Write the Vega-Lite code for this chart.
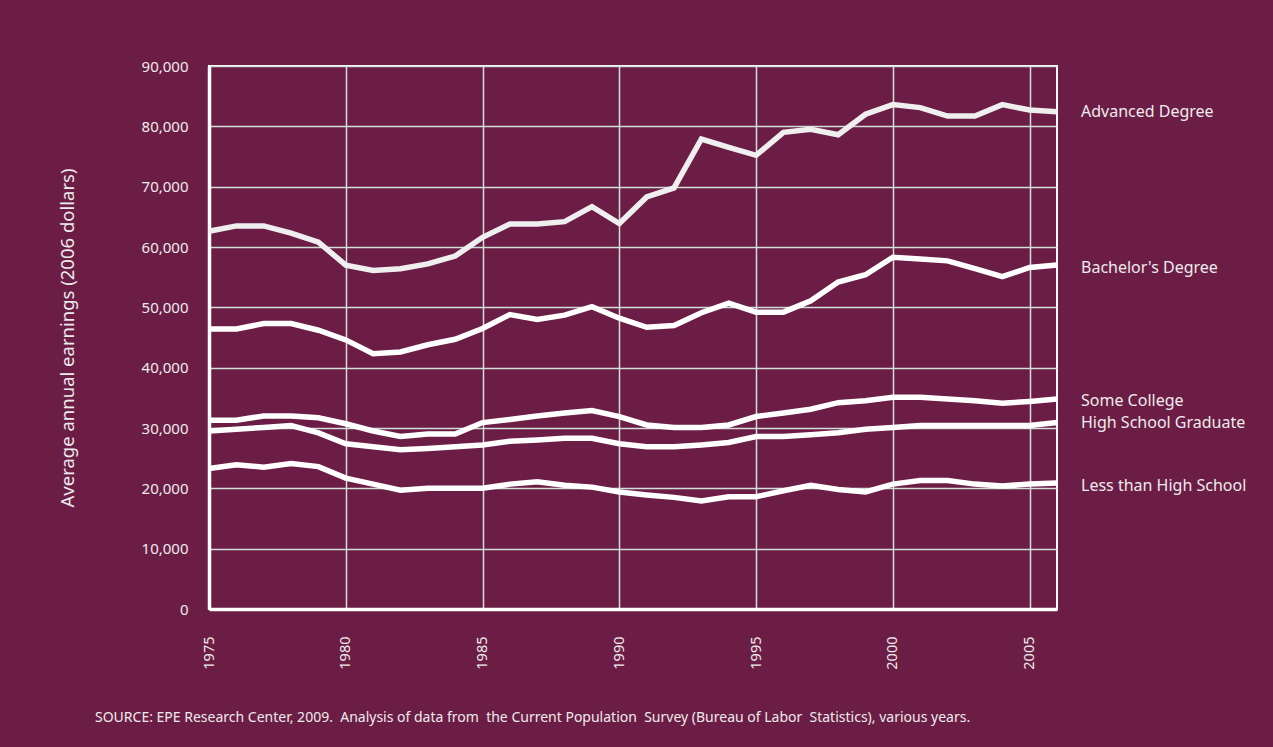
{
  "$schema": "https://vega.github.io/schema/vega-lite/v6.json",
  "width": 848,
  "height": 543,
  "autosize": {"type": "none"},
  "padding": {"left": 209, "top": 66, "right": 216, "bottom": 138},
  "background": "#6C1D45",
  "config": {
    "font": "Noto Sans",
    "view": {"stroke": "#ffffff", "strokeWidth": 2, "fill": "#6C1D45"},
    "axis": {"gridColor": "#cfe0da", "gridWidth": 1.5, "gridOpacity": 1, "domainColor": "#ffffff", "domainWidth": 3.5, "ticks": false, "labelColor": "#ecebec", "titleColor": "#ecebec", "labelFont": "Noto Sans", "titleFont": "Noto Sans"}
  },
  "title": {
    "text": "SOURCE: EPE Research Center, 2009. \u00a0Analysis of data from \u00a0the Current Population \u00a0Survey (Bureau of Labor \u00a0Statistics), various years.",
    "orient": "bottom",
    "anchor": "start",
    "frame": "group",
    "dx": -114,
    "offset": 42,
    "fontSize": 14,
    "fontWeight": "normal",
    "color": "#ecebec",
    "font": "Noto Sans"
  },
  "datasets": {
    "earn": [
      {"year": 1975, "series": "Advanced Degree", "value": 62600},
      {"year": 1976, "series": "Advanced Degree", "value": 63500},
      {"year": 1977, "series": "Advanced Degree", "value": 63500},
      {"year": 1978, "series": "Advanced Degree", "value": 62300},
      {"year": 1979, "series": "Advanced Degree", "value": 60800},
      {"year": 1980, "series": "Advanced Degree", "value": 57000},
      {"year": 1981, "series": "Advanced Degree", "value": 56100},
      {"year": 1982, "series": "Advanced Degree", "value": 56400},
      {"year": 1983, "series": "Advanced Degree", "value": 57200},
      {"year": 1984, "series": "Advanced Degree", "value": 58500},
      {"year": 1985, "series": "Advanced Degree", "value": 61600},
      {"year": 1986, "series": "Advanced Degree", "value": 63800},
      {"year": 1987, "series": "Advanced Degree", "value": 63800},
      {"year": 1988, "series": "Advanced Degree", "value": 64200},
      {"year": 1989, "series": "Advanced Degree", "value": 66700},
      {"year": 1990, "series": "Advanced Degree", "value": 63900},
      {"year": 1991, "series": "Advanced Degree", "value": 68300},
      {"year": 1992, "series": "Advanced Degree", "value": 69800},
      {"year": 1993, "series": "Advanced Degree", "value": 77900},
      {"year": 1994, "series": "Advanced Degree", "value": 76500},
      {"year": 1995, "series": "Advanced Degree", "value": 75200},
      {"year": 1996, "series": "Advanced Degree", "value": 79000},
      {"year": 1997, "series": "Advanced Degree", "value": 79500},
      {"year": 1998, "series": "Advanced Degree", "value": 78600},
      {"year": 1999, "series": "Advanced Degree", "value": 82000},
      {"year": 2000, "series": "Advanced Degree", "value": 83600},
      {"year": 2001, "series": "Advanced Degree", "value": 83100},
      {"year": 2002, "series": "Advanced Degree", "value": 81700},
      {"year": 2003, "series": "Advanced Degree", "value": 81700},
      {"year": 2004, "series": "Advanced Degree", "value": 83600},
      {"year": 2005, "series": "Advanced Degree", "value": 82700},
      {"year": 2006, "series": "Advanced Degree", "value": 82400},
      {"year": 1975, "series": "Bachelor's Degree", "value": 46400},
      {"year": 1976, "series": "Bachelor's Degree", "value": 46400},
      {"year": 1977, "series": "Bachelor's Degree", "value": 47300},
      {"year": 1978, "series": "Bachelor's Degree", "value": 47300},
      {"year": 1979, "series": "Bachelor's Degree", "value": 46200},
      {"year": 1980, "series": "Bachelor's Degree", "value": 44600},
      {"year": 1981, "series": "Bachelor's Degree", "value": 42300},
      {"year": 1982, "series": "Bachelor's Degree", "value": 42600},
      {"year": 1983, "series": "Bachelor's Degree", "value": 43800},
      {"year": 1984, "series": "Bachelor's Degree", "value": 44700},
      {"year": 1985, "series": "Bachelor's Degree", "value": 46500},
      {"year": 1986, "series": "Bachelor's Degree", "value": 48800},
      {"year": 1987, "series": "Bachelor's Degree", "value": 48000},
      {"year": 1988, "series": "Bachelor's Degree", "value": 48700},
      {"year": 1989, "series": "Bachelor's Degree", "value": 50100},
      {"year": 1990, "series": "Bachelor's Degree", "value": 48200},
      {"year": 1991, "series": "Bachelor's Degree", "value": 46700},
      {"year": 1992, "series": "Bachelor's Degree", "value": 47000},
      {"year": 1993, "series": "Bachelor's Degree", "value": 49100},
      {"year": 1994, "series": "Bachelor's Degree", "value": 50700},
      {"year": 1995, "series": "Bachelor's Degree", "value": 49200},
      {"year": 1996, "series": "Bachelor's Degree", "value": 49200},
      {"year": 1997, "series": "Bachelor's Degree", "value": 51100},
      {"year": 1998, "series": "Bachelor's Degree", "value": 54200},
      {"year": 1999, "series": "Bachelor's Degree", "value": 55400},
      {"year": 2000, "series": "Bachelor's Degree", "value": 58300},
      {"year": 2001, "series": "Bachelor's Degree", "value": 58000},
      {"year": 2002, "series": "Bachelor's Degree", "value": 57700},
      {"year": 2003, "series": "Bachelor's Degree", "value": 56400},
      {"year": 2004, "series": "Bachelor's Degree", "value": 55100},
      {"year": 2005, "series": "Bachelor's Degree", "value": 56600},
      {"year": 2006, "series": "Bachelor's Degree", "value": 57000},
      {"year": 1975, "series": "Some College", "value": 31300},
      {"year": 1976, "series": "Some College", "value": 31300},
      {"year": 1977, "series": "Some College", "value": 32000},
      {"year": 1978, "series": "Some College", "value": 32000},
      {"year": 1979, "series": "Some College", "value": 31700},
      {"year": 1980, "series": "Some College", "value": 30700},
      {"year": 1981, "series": "Some College", "value": 29500},
      {"year": 1982, "series": "Some College", "value": 28600},
      {"year": 1983, "series": "Some College", "value": 29000},
      {"year": 1984, "series": "Some College", "value": 29000},
      {"year": 1985, "series": "Some College", "value": 30900},
      {"year": 1986, "series": "Some College", "value": 31400},
      {"year": 1987, "series": "Some College", "value": 32000},
      {"year": 1988, "series": "Some College", "value": 32500},
      {"year": 1989, "series": "Some College", "value": 32900},
      {"year": 1990, "series": "Some College", "value": 31900},
      {"year": 1991, "series": "Some College", "value": 30500},
      {"year": 1992, "series": "Some College", "value": 30100},
      {"year": 1993, "series": "Some College", "value": 30100},
      {"year": 1994, "series": "Some College", "value": 30500},
      {"year": 1995, "series": "Some College", "value": 31900},
      {"year": 1996, "series": "Some College", "value": 32500},
      {"year": 1997, "series": "Some College", "value": 33100},
      {"year": 1998, "series": "Some College", "value": 34200},
      {"year": 1999, "series": "Some College", "value": 34500},
      {"year": 2000, "series": "Some College", "value": 35100},
      {"year": 2001, "series": "Some College", "value": 35100},
      {"year": 2002, "series": "Some College", "value": 34800},
      {"year": 2003, "series": "Some College", "value": 34500},
      {"year": 2004, "series": "Some College", "value": 34100},
      {"year": 2005, "series": "Some College", "value": 34400},
      {"year": 2006, "series": "Some College", "value": 34800},
      {"year": 1975, "series": "High School Graduate", "value": 29500},
      {"year": 1976, "series": "High School Graduate", "value": 29800},
      {"year": 1977, "series": "High School Graduate", "value": 30100},
      {"year": 1978, "series": "High School Graduate", "value": 30400},
      {"year": 1979, "series": "High School Graduate", "value": 29200},
      {"year": 1980, "series": "High School Graduate", "value": 27400},
      {"year": 1981, "series": "High School Graduate", "value": 26900},
      {"year": 1982, "series": "High School Graduate", "value": 26400},
      {"year": 1983, "series": "High School Graduate", "value": 26600},
      {"year": 1984, "series": "High School Graduate", "value": 26900},
      {"year": 1985, "series": "High School Graduate", "value": 27200},
      {"year": 1986, "series": "High School Graduate", "value": 27800},
      {"year": 1987, "series": "High School Graduate", "value": 28000},
      {"year": 1988, "series": "High School Graduate", "value": 28300},
      {"year": 1989, "series": "High School Graduate", "value": 28300},
      {"year": 1990, "series": "High School Graduate", "value": 27400},
      {"year": 1991, "series": "High School Graduate", "value": 26900},
      {"year": 1992, "series": "High School Graduate", "value": 26900},
      {"year": 1993, "series": "High School Graduate", "value": 27200},
      {"year": 1994, "series": "High School Graduate", "value": 27600},
      {"year": 1995, "series": "High School Graduate", "value": 28600},
      {"year": 1996, "series": "High School Graduate", "value": 28600},
      {"year": 1997, "series": "High School Graduate", "value": 28900},
      {"year": 1998, "series": "High School Graduate", "value": 29200},
      {"year": 1999, "series": "High School Graduate", "value": 29800},
      {"year": 2000, "series": "High School Graduate", "value": 30100},
      {"year": 2001, "series": "High School Graduate", "value": 30400},
      {"year": 2002, "series": "High School Graduate", "value": 30400},
      {"year": 2003, "series": "High School Graduate", "value": 30400},
      {"year": 2004, "series": "High School Graduate", "value": 30400},
      {"year": 2005, "series": "High School Graduate", "value": 30400},
      {"year": 2006, "series": "High School Graduate", "value": 30900},
      {"year": 1975, "series": "Less than High School", "value": 23300},
      {"year": 1976, "series": "Less than High School", "value": 23900},
      {"year": 1977, "series": "Less than High School", "value": 23500},
      {"year": 1978, "series": "Less than High School", "value": 24100},
      {"year": 1979, "series": "Less than High School", "value": 23600},
      {"year": 1980, "series": "Less than High School", "value": 21700},
      {"year": 1981, "series": "Less than High School", "value": 20700},
      {"year": 1982, "series": "Less than High School", "value": 19700},
      {"year": 1983, "series": "Less than High School", "value": 20000},
      {"year": 1984, "series": "Less than High School", "value": 20000},
      {"year": 1985, "series": "Less than High School", "value": 20000},
      {"year": 1986, "series": "Less than High School", "value": 20700},
      {"year": 1987, "series": "Less than High School", "value": 21100},
      {"year": 1988, "series": "Less than High School", "value": 20500},
      {"year": 1989, "series": "Less than High School", "value": 20200},
      {"year": 1990, "series": "Less than High School", "value": 19400},
      {"year": 1991, "series": "Less than High School", "value": 18900},
      {"year": 1992, "series": "Less than High School", "value": 18500},
      {"year": 1993, "series": "Less than High School", "value": 17900},
      {"year": 1994, "series": "Less than High School", "value": 18600},
      {"year": 1995, "series": "Less than High School", "value": 18600},
      {"year": 1996, "series": "Less than High School", "value": 19600},
      {"year": 1997, "series": "Less than High School", "value": 20500},
      {"year": 1998, "series": "Less than High School", "value": 19800},
      {"year": 1999, "series": "Less than High School", "value": 19400},
      {"year": 2000, "series": "Less than High School", "value": 20700},
      {"year": 2001, "series": "Less than High School", "value": 21300},
      {"year": 2002, "series": "Less than High School", "value": 21300},
      {"year": 2003, "series": "Less than High School", "value": 20700},
      {"year": 2004, "series": "Less than High School", "value": 20400},
      {"year": 2005, "series": "Less than High School", "value": 20700},
      {"year": 2006, "series": "Less than High School", "value": 20900}
    ],
    "labels": [
      {"year": 2006, "series": "Advanced Degree", "value": 82300},
      {"year": 2006, "series": "Bachelor's Degree", "value": 56600},
      {"year": 2006, "series": "Some College", "value": 34500},
      {"year": 2006, "series": "High School Graduate", "value": 30850},
      {"year": 2006, "series": "Less than High School", "value": 20400}
    ]
  },
  "layer": [
    {
      "data": {"name": "earn"},
      "mark": {"type": "line", "strokeWidth": 5.5, "strokeJoin": "miter"},
      "encoding": {
        "x": {
          "field": "year", "type": "quantitative",
          "scale": {"domain": [1975, 2006], "nice": false, "zero": false},
          "axis": {"values": [1975, 1980, 1985, 1990, 1995, 2000, 2005], "format": "d", "labelAngle": 270, "labelAlign": "right", "labelBaseline": "middle", "labelPadding": 27, "labelFontSize": 14.5, "title": null, "grid": true, "labelFlush": false, "labelOverlap": false}
        },
        "y": {
          "field": "value", "type": "quantitative",
          "scale": {"domain": [0, 90000], "nice": false},
          "axis": {"values": [0, 10000, 20000, 30000, 40000, 50000, 60000, 70000, 80000, 90000], "format": ",.0f", "labelFontSize": 15, "labelPadding": 21, "title": "Average annual earnings  (2006 dollars)", "titleFontSize": 18.5, "titleFontWeight": "normal", "titlePadding": 64, "grid": true}
        },
        "color": {
          "field": "series", "type": "nominal", "legend": null,
          "scale": {"domain": ["Advanced Degree", "Bachelor's Degree", "Some College", "High School Graduate", "Less than High School"], "range": ["#efefef", "#ffffff", "#ffffff", "#ffffff", "#ffffff"]}
        },
        "detail": {"field": "series"}
      }
    },
    {
      "data": {"name": "labels"},
      "mark": {"type": "text", "align": "left", "baseline": "middle", "dx": 24, "fontSize": 16, "color": "#ecebec", "font": "Noto Sans"},
      "encoding": {
        "x": {"field": "year", "type": "quantitative"},
        "y": {"field": "value", "type": "quantitative"},
        "text": {"field": "series"}
      }
    }
  ]
}
